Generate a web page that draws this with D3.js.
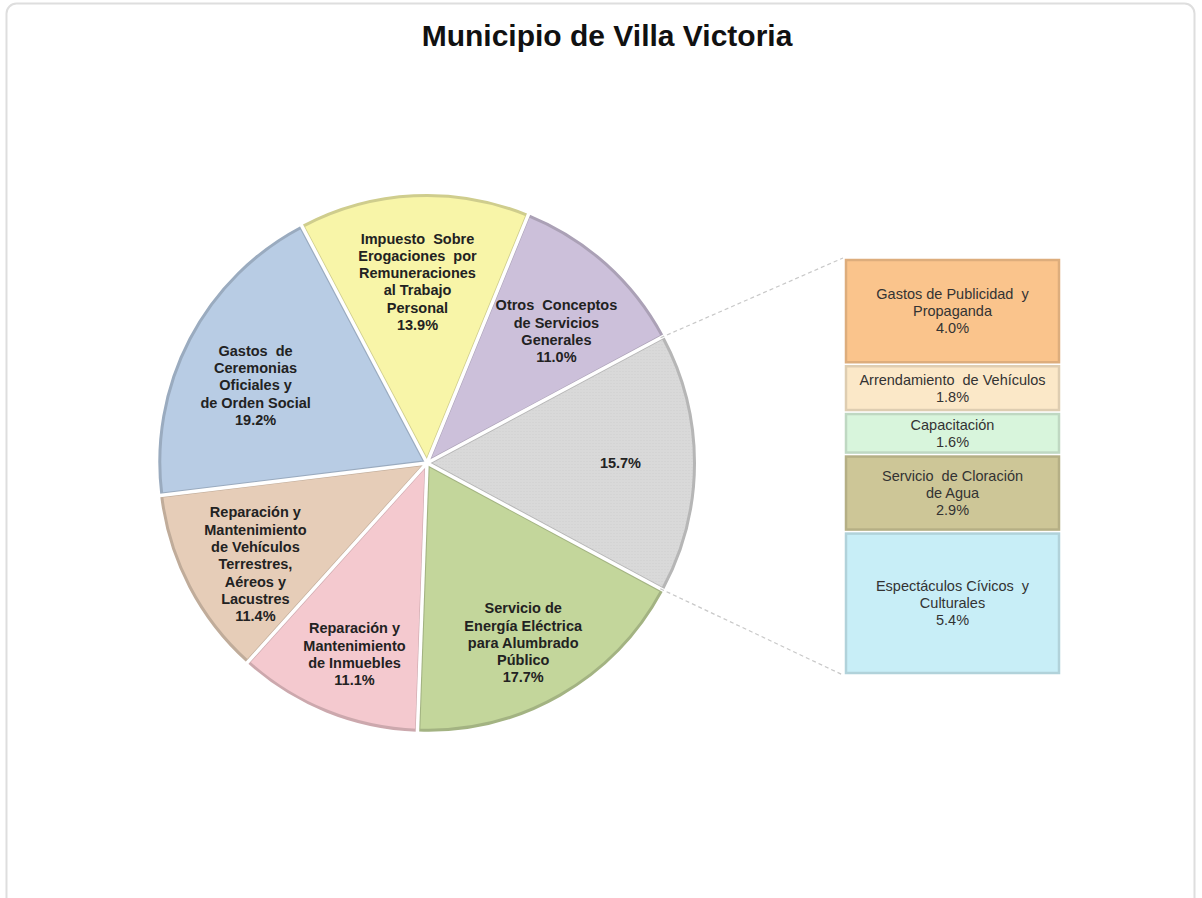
<!DOCTYPE html>
<html><head><meta charset="utf-8">
<script src="https://cdn.jsdelivr.net/npm/d3@7"></script>
<style>html,body{margin:0;padding:0;background:#fff;}svg{display:block;}</style>
</head><body>
<svg id="chart" width="1202" height="898"></svg>
<script>
const title = "Municipio de Villa Victoria";
const pieCategories = ["Otros", "Servicio de Energía Eléctrica para Alumbrado Público", "Reparación y Mantenimiento de Inmuebles", "Reparación y Mantenimiento de Vehículos Terrestres, Aéreos y Lacustres", "Gastos de Ceremonias Oficiales y de Orden Social", "Impuesto Sobre Erogaciones por Remuneraciones al Trabajo Personal", "Otros Conceptos de Servicios Generales"];
const pieLabelLines = [[], ["Servicio de","Energía Eléctrica","para Alumbrado","Público"], ["Reparación y","Mantenimiento","de Inmuebles"], ["Reparación y","Mantenimiento","de Vehículos","Terrestres,","Aéreos y","Lacustres"], ["Gastos  de","Ceremonias","Oficiales y","de Orden Social"], ["Impuesto  Sobre","Erogaciones  por","Remuneraciones","al Trabajo","Personal"], ["Otros  Conceptos","de Servicios","Generales"]];
const pieValues = [15.7, 17.7, 11.1, 11.4, 19.2, 13.9, 11.0];
const pieColors = ["#d9d9d9", "#c3d69b", "#f4c9cf", "#e6cdb8", "#b8cce4", "#f8f5a8", "#ccc0da"];
const barCategories = ["Gastos de Publicidad y Propaganda", "Arrendamiento de Vehículos", "Capacitación", "Servicio de Cloración de Agua", "Espectáculos Cívicos y Culturales"];
const barLabelLines = [["Gastos de Publicidad  y","Propaganda"], ["Arrendamiento  de Vehículos"], ["Capacitación"], ["Servicio  de Cloración","de Agua"], ["Espectáculos Cívicos  y","Culturales"]];
const barValues = [4.0, 1.8, 1.6, 2.9, 5.4];
const barColors = ["#fac48c", "#fbe8c8", "#d8f5dc", "#cdc697", "#c8eef7"];

const svg = d3.select("#chart");
const defs = svg.append("defs");
const pat = defs.append("pattern").attr("id","dots").attr("width",3).attr("height",3).attr("patternUnits","userSpaceOnUse");
pat.append("rect").attr("width",3).attr("height",3).attr("fill","#d9d9d9");
pat.append("rect").attr("x",1).attr("y",1).attr("width",1).attr("height",1).attr("fill","#cfcfcf");

// frame
svg.append("rect").attr("x",6.5).attr("y",3.5).attr("width",1188).attr("height",920).attr("rx",10)
  .attr("fill","none").attr("stroke","#dedede").attr("stroke-width",2);

svg.append("text").attr("x",607).attr("y",46).attr("text-anchor","middle")
  .attr("font-family","Liberation Sans, Arial, sans-serif").attr("font-weight","bold").attr("font-size",30)
  .attr("fill","#111").text(title);

const cx = 427, cy = 463, R = 265;
const deg = Math.PI/180;
const startA = 61.8*deg;
const pie = d3.pie().sort(null).value(d=>d).startAngle(startA).endAngle(startA + 2*Math.PI);
const arcs = pie(pieValues);
const arc = d3.arc().innerRadius(0).outerRadius(R);
const labelArc = d3.arc().innerRadius(R*0.73).outerRadius(R*0.73);
const fmt = d3.format(".1f");

const g = svg.append("g").attr("transform",`translate(${cx},${cy})`);
const explode = 2.5;
const sl = g.selectAll("g.slice").data(arcs).join("g").attr("class","slice")
  .attr("transform", d => { const m=(d.startAngle+d.endAngle)/2; return `translate(${explode*Math.sin(m)},${-explode*Math.cos(m)})`; });
sl.append("path").attr("d", arc)
  .attr("fill", (d,i) => i===0 ? "url(#dots)" : pieColors[i])
  .attr("stroke", (d,i) => d3.color(pieColors[i]).darker(0.5))
  .attr("stroke-width", 3).attr("stroke-linejoin","round");
// white separators
g.selectAll("line.sep").data(arcs).join("line").attr("class","sep")
  .attr("x1",0).attr("y1",0)
  .attr("x2", d => (R+6)*Math.sin(d.startAngle)).attr("y2", d => -(R+6)*Math.cos(d.startAngle))
  .attr("stroke","#fff").attr("stroke-width",3.5);

const lh = 17.3;
const lab = g.selectAll("text.lab").data(arcs).join("text").attr("class","lab")
  .attr("font-family","Liberation Sans, Arial, sans-serif").attr("font-weight","bold").attr("font-size",14.5)
  .attr("fill","#222").attr("text-anchor","middle").attr("xml:space","preserve");
lab.each(function(d,i){
  const [x,y] = labelArc.centroid(d);
  const lines = pieLabelLines[i].concat([fmt(pieValues[i]) + "%"]);
  const y0 = y - (lines.length-1)*lh/2 + 5 + (lines.length > 1 ? 12 : 0);
  const t = d3.select(this);
  lines.forEach((s,k)=> t.append("tspan").attr("x",x).attr("y",y0+k*lh).text(s));
});

// bar
const bx0 = 845, bx1 = 1060;
const total = d3.sum(barValues);
const yb = d3.scaleLinear().domain([0,total]).range([258,675]);
let acc = 0;
const segs = barValues.map(v => { const s = {y0:acc, y1:acc+v, v}; acc += v; return s; });
const bg = svg.append("g");
bg.selectAll("rect").data(segs).join("rect")
  .attr("x", bx0+1).attr("width", bx1-bx0-2)
  .attr("y", d => yb(d.y0)+2).attr("height", d => yb(d.y1)-yb(d.y0)-4)
  .attr("fill", (d,i)=>barColors[i])
  .attr("stroke", (d,i)=>d3.color(barColors[i]).darker(0.35)).attr("stroke-width",2.5);
const blh = 17;
bg.selectAll("text").data(segs).join("text")
  .attr("font-family","Liberation Sans, Arial, sans-serif").attr("font-size",14.5)
  .attr("fill","#333").attr("text-anchor","middle").attr("xml:space","preserve")
  .each(function(d,i){
    const lines = barLabelLines[i].concat([fmt(barValues[i])+"%"]);
    const ym = (yb(d.y0)+yb(d.y1))/2;
    const y0 = ym - (lines.length-1)*blh/2 + 5;
    const t = d3.select(this);
    lines.forEach((s,k)=> t.append("tspan").attr("x",(bx0+bx1)/2).attr("y",y0+k*blh).text(s));
  });

// connector lines
const o = arcs[0];
const pTop = [cx + R*Math.sin(o.startAngle), cy - R*Math.cos(o.startAngle)];
const pBot = [cx + R*Math.sin(o.endAngle), cy - R*Math.cos(o.endAngle)];
svg.append("line").attr("x1",pTop[0]).attr("y1",pTop[1]).attr("x2",bx0-2).attr("y2",yb(0))
  .attr("stroke","#c8c8c8").attr("stroke-width",1.2).attr("stroke-dasharray","4,3");
svg.append("line").attr("x1",pBot[0]).attr("y1",pBot[1]).attr("x2",bx0-2).attr("y2",yb(total))
  .attr("stroke","#c8c8c8").attr("stroke-width",1.2).attr("stroke-dasharray","4,3");
</script>
</body></html>
